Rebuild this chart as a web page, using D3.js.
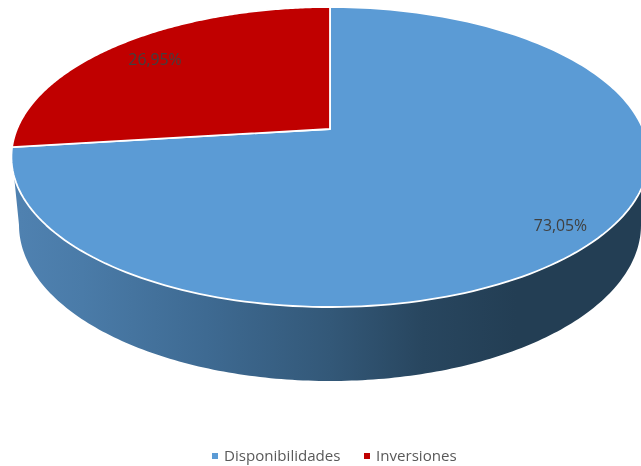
<!DOCTYPE html>
<html><head><meta charset="utf-8">
<script src="https://cdn.jsdelivr.net/npm/d3@7"></script>
<style>html,body{margin:0;padding:0;background:#fff}svg{display:block}text{filter:blur(0.3px)}</style>
</head><body><script>
const categories = ["Disponibilidades", "Inversiones"];
const shares = [73.05, 26.95];
const labels = ["73,05%", "26,95%"];
const colors = ["#5b9bd5", "#c00000"];
const W = 641, H = 466;
const svg = d3.select("body").append("svg").attr("width", W).attr("height", H);

// Perspective projection of the pie's top face
const cx = 330, apexY = 129, R = 313, persp = 0.1867, tilt = -120.7;
const project = (a, r = 1) => {
  const u = r * Math.sin(a), v = r * Math.cos(a), w = 1 + persp * v;
  return [cx + R * u / w, (apexY + tilt * v) / w];
};
// Bottom rim of the extruded side
const baseCx = 330, baseCy = 225, baseRx = 311, baseRy = 156;

const pie = d3.pie().sort(null).value(d => d);
const arcs = pie(shares);
const line = d3.line();
const sweep = (a0, a1) => d3.range(0, 181).map(i => a0 + (a1 - a0) * i / 180);

const grad = svg.append("defs").append("linearGradient").attr("id", "side")
  .attr("gradientUnits", "userSpaceOnUse")
  .attr("x1", 20).attr("x2", 640).attr("y1", 0).attr("y2", 0);
[[0, "#4f81b0"], [0.1, "#4a7ba8"], [0.3, "#3e6a92"], [0.5, "#335878"], [0.65, "#28465f"], [0.8, "#233e54"], [1, "#233e54"]]
  .forEach(([o, c]) => grad.append("stop").attr("offset", o).attr("stop-color", c));

// Side wall: front rim of the top face, then the base rim back again
const baseRim = sweep(0, Math.PI).map(t => [baseCx + baseRx * Math.cos(t), baseCy + baseRy * Math.sin(t)]);
const frontRim = sweep(2 * Math.PI * 0.7, 2 * Math.PI * 0.3).map(a => project(a));
svg.append("path")
  .attr("d", line([...frontRim, ...baseRim]) + "Z")
  .attr("fill", "url(#side)");

// Top face slices
svg.selectAll("path.slice").data(arcs).join("path")
  .attr("class", "slice")
  .attr("d", d => line([project(0, 0), ...sweep(d.startAngle, d.endAngle).map(a => project(a))]) + "Z")
  .attr("fill", (d, i) => colors[i])
  .attr("stroke", "#fff").attr("stroke-width", 1.8).attr("stroke-linejoin", "round");

// Data labels
const labelPos = [[560.5, 225.5], [155, 59]];
svg.selectAll("text.lab").data(labels).join("text")
  .attr("class", "lab")
  .attr("x", (d, i) => labelPos[i][0]).attr("y", (d, i) => labelPos[i][1])
  .attr("dy", "0.35em").attr("text-anchor", "middle")
  .attr("font-family", "Open Sans").attr("font-size", 15.8)
  .attr("fill", "#404040").text(d => d);

// Legend
const legX = [212, 364], legY = 456;
const leg = svg.selectAll("g.leg").data(categories).join("g").attr("class", "leg")
  .attr("transform", (d, i) => `translate(${legX[i]},${legY})`);
leg.append("rect").attr("x", 0).attr("y", -3).attr("width", 6).attr("height", 6)
  .attr("fill", (d, i) => colors[i]);
leg.append("text").attr("x", 12).attr("dy", "0.35em")
  .attr("font-family", "Open Sans").attr("font-size", 15.1).attr("fill", "#595959")
  .text(d => d);
</script></body></html>
